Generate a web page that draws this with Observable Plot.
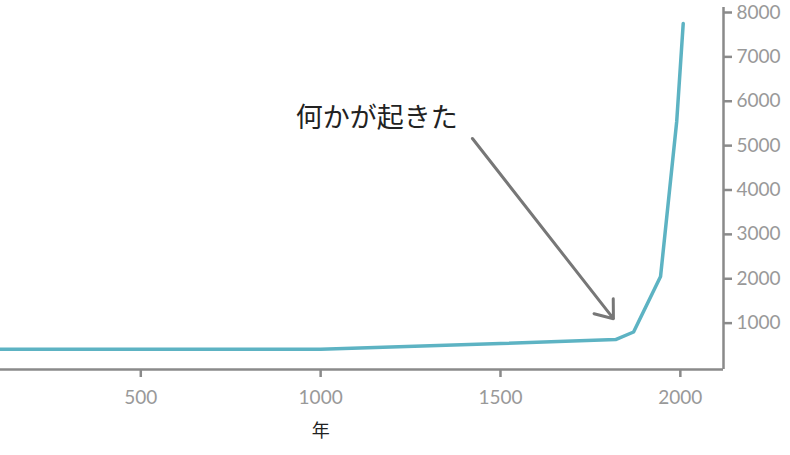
<!DOCTYPE html>
<html>
<head>
<meta charset="utf-8">
<script src="https://cdn.jsdelivr.net/npm/d3@7"></script>
<script src="https://cdn.jsdelivr.net/npm/@observablehq/plot@0.6"></script>
<style>
  html, body { margin: 0; padding: 0; background: #fff; }
  #chart svg { display: block; }
</style>
</head>
<body>
<div id="chart"></div>
<script>
// data
const years  = [110, 1000, 1500, 1820, 1870, 1945, 1990, 2008];
const values = [410, 410, 540, 630, 800, 2050, 5550, 7750];
const xTicks = [500, 1000, 1500, 2000];
const yTicks = [1000, 2000, 3000, 4000, 5000, 6000, 7000, 8000];
const xDomain = [110, 2120];
const yDomain = [0, 8000];
const annotationText = ["何かが起きた"];
const annotationX = [1156];
const annotationY = [5610];
const arrowFrom = [1422, 5160];
const arrowTo = [1814, 1100];
const xLabel = "年";
const xLabelAt = 1000;

const data = years.map((y, i) => ({year: y, value: values[i]}));

const chart = Plot.plot({
  width: 790,
  height: 455,
  marginLeft: 0,
  marginRight: 67,
  marginTop: 12,
  marginBottom: 88,
  style: {fontFamily: "'Noto Sans CJK JP', sans-serif", background: "#fff"},
  x: {domain: xDomain, axis: null},
  y: {domain: yDomain, axis: null},
  marks: [
    Plot.ruleY([yDomain[0]], {stroke: "#8a8a8a", strokeWidth: 2.5, dy: 2}),
    Plot.ruleX([xDomain[1]], {y1: yDomain[0], y2: 8160, stroke: "#8a8a8a", strokeWidth: 2.5, dy: 2}),
    Plot.axisX({ticks: xTicks, tickSize: 8, tickPadding: 13, stroke: "#8a8a8a", strokeWidth: 2.5, fill: "#999", fontSize: 19, fontFamily: "Lato, sans-serif", dy: 2, tickFormat: d => String(d)}),
    Plot.axisY({anchor: "right", ticks: yTicks, tickSize: 8, tickPadding: 5, stroke: "#8a8a8a", strokeWidth: 2.5, fill: "#999", fontSize: 19, fontFamily: "Lato, sans-serif", tickFormat: d => String(d)}),
    Plot.line(data, {x: "year", y: "value", stroke: "#5db3c3", strokeWidth: 3.5, curve: "linear"}),
    Plot.arrow([{x1: arrowFrom[0], y1: arrowFrom[1], x2: arrowTo[0], y2: arrowTo[1]}], {x1: "x1", y1: "y1", x2: "x2", y2: "y2", stroke: "#777", strokeWidth: 3, headLength: 10, headAngle: 75}),
    Plot.text(annotationText, {x: annotationX, y: annotationY, text: d => d, fontSize: 27, fill: "#222"}),
    Plot.text([xLabel], {x: [xLabelAt], frameAnchor: "bottom", dy: 69, text: d => d, fontSize: 18, fill: "#222"})
  ]
});
document.getElementById("chart").appendChild(chart);
</script>
</body>
</html>
